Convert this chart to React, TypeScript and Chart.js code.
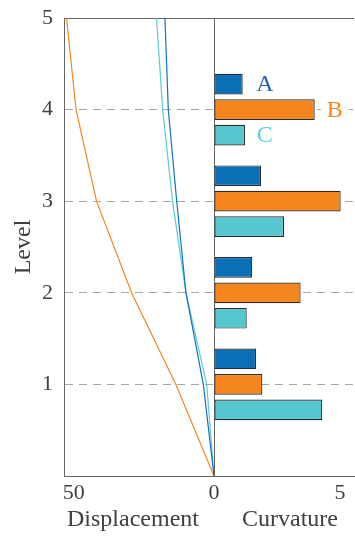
import React, { useEffect, useRef } from 'react';
import { Chart, registerables } from 'chart.js';

Chart.register(...registerables);

// Storey levels and lateral displacement profiles for each case
const levels = [0, 1, 2, 3, 4, 5];
const dispA = [0, 3.8, 10.0, 13.3, 16.3, 17.5];
const dispB = [0, 13.6, 29.4, 41.9, 49.2, 52.6];
const dispC = [0, 2.6, 10.0, 14.8, 18.3, 20.5];

// Curvature demand per level for each case
const barLevels = [1, 2, 3, 4];
const curvA = [1.67, 1.52, 1.87, 1.14];
const curvB = [1.92, 3.44, 5.03, 4.0];
const curvC = [4.3, 1.3, 2.78, 1.23];

const seriesNames = ['A', 'B', 'C'];
const levelTicks = [0, 1, 2, 3, 4, 5];
const dispTicks = [50, 0];
const curvTicks = [0, 5];

const FONT = '"Liberation Serif", "Times New Roman", serif';
const TEXT = '#404040';
const AXIS = '#666666';
const GRID = '#a6a6a6';

const barColors = ['#0a6fb7', '#f5851f', '#56c6cf'];
const lineColors = ['#1272bd', '#f5851f', '#5ccbd4'];
const labelColors = ['#2161b0', '#f5851f', '#5ccfd8'];
// where the case names sit along the curvature axis, beside the top group of bars
const labelAt = [2.02, 4.8, 2.02];
const labelLevel = 4;

const seriesLabels = {
  id: 'seriesLabels',
  afterDatasetsDraw(chart: any) {
    const { ctx } = chart;
    const xs = chart.scales.xc;
    ctx.save();
    ctx.font = `24px ${FONT}`;
    ctx.textAlign = 'center';
    ctx.textBaseline = 'middle';
    seriesNames.forEach((name, i) => {
      const meta = chart.getDatasetMeta(3 + i);
      const bar = meta.data[barLevels.indexOf(labelLevel)];
      const x = xs.getPixelForValue(labelAt[i]);
      const y = bar.y;
      const w = ctx.measureText(name).width;
      ctx.fillStyle = '#ffffff';
      ctx.fillRect(x - w / 2 - 6, y - 10, w + 12, 20);
      ctx.fillStyle = labelColors[i];
      ctx.fillText(name, x, y + 1);
    });
    ctx.restore();
  },
};

// keep tick labels from pushing the plot area inwards
const noScalePadding = (s: any) => {
  s.paddingTop = 0;
  s.paddingBottom = 0;
  s.paddingLeft = 0;
  s.paddingRight = 0;
};

export default function App() {
  const ref = useRef<HTMLCanvasElement | null>(null);

  useEffect(() => {
    if (!ref.current) return;
    const dispSeries = [dispA, dispB, dispC];
    const curvSeries = [curvA, curvB, curvC];

    const lineSets = dispSeries.map((d, i) => ({
      type: 'line' as const,
      label: seriesNames[i],
      indexAxis: 'y' as const,
      xAxisID: 'xd',
      yAxisID: 'y',
      data: levels.map((l, k) => ({ x: d[k], y: l })),
      borderColor: lineColors[i],
      borderWidth: 1.2,
      pointRadius: 0,
      fill: false,
      tension: 0,
    }));

    const barSets = curvSeries.map((c, i) => ({
      type: 'bar' as const,
      label: seriesNames[i],
      indexAxis: 'y' as const,
      xAxisID: 'xc',
      yAxisID: 'y',
      data: barLevels.map((l, k) => ({ x: c[k], y: l })),
      backgroundColor: barColors[i],
      borderColor: '#2a2a2a',
      borderWidth: 1.2,
      borderSkipped: false,
      categoryPercentage: 0.835,
      barPercentage: 0.81,
    }));

    const chart = new Chart(ref.current, {
      type: 'line',
      data: { datasets: [...lineSets, ...barSets] as any },
      plugins: [seriesLabels],
      options: {
        indexAxis: 'y',
        responsive: false,
        animation: false,
        layout: { padding: { top: 18, right: 1, left: 0, bottom: 0 } },
        plugins: { legend: { display: false }, tooltip: { enabled: false } },
        scales: {
          y: {
            type: 'linear',
            axis: 'y',
            position: 'left',
            offset: false,
            min: 0,
            max: 5,
            afterBuildTicks: (s: any) => {
              s.ticks = levelTicks.map((v) => ({ value: v }));
            },
            afterFit: (s: any) => {
              s.width = 64;
              noScalePadding(s);
            },
            ticks: {
              padding: 11,
              color: TEXT,
              font: { family: FONT, size: 22 },
              callback: (v: any) => (v === 0 ? '' : String(v)),
            },
            grid: {
              offset: false,
              drawTicks: false,
              lineWidth: 1,
              color: (c: any) => {
                const v = c.tick ? c.tick.value : null;
                if (v === 0) return 'rgba(0,0,0,0)';
                if (v === 5) return AXIS;
                return GRID;
              },
            },
            border: {
              display: true,
              color: AXIS,
              width: 1,
              dash: (c: any) => (c.tick && c.tick.value !== 5 ? [8, 6] : []),
            },
            title: {
              display: true,
              text: 'Level',
              color: TEXT,
              font: { family: FONT, size: 24 },
              padding: { top: 9, bottom: 0 },
            },
          },
          xd: {
            type: 'linear',
            axis: 'x',
            position: 'bottom',
            stack: 'bottom',
            stackWeight: 150,
            offset: false,
            reverse: true,
            min: 0,
            max: 53.5,
            afterBuildTicks: (s: any) => {
              s.ticks = dispTicks.map((v) => ({ value: v }));
            },
            afterFit: (s: any) => {
              s.height = 66;
              noScalePadding(s);
            },
            ticks: {
              padding: 4,
              color: TEXT,
              autoSkip: false,
              maxRotation: 0,
              font: { family: FONT, size: 22 },
            },
            grid: { display: false, drawTicks: false },
            border: { display: true, color: AXIS, width: 1 },
            title: {
              display: true,
              text: 'Displacement  ',
              color: TEXT,
              font: { family: FONT, size: 24 },
              padding: { top: 0, bottom: 8 },
            },
          },
          xc: {
            type: 'linear',
            axis: 'x',
            position: 'bottom',
            stack: 'bottom',
            stackWeight: 140,
            offset: false,
            min: 0,
            max: 5.56,
            afterBuildTicks: (s: any) => {
              s.ticks = curvTicks.map((v) => ({ value: v }));
            },
            afterFit: (s: any) => {
              s.height = 66;
              noScalePadding(s);
            },
            ticks: {
              padding: 4,
              color: TEXT,
              autoSkip: false,
              maxRotation: 0,
              font: { family: FONT, size: 22 },
              callback: (v: any) => (v === 0 ? '' : String(v)),
            },
            grid: {
              offset: false,
              drawTicks: false,
              lineWidth: 1,
              color: (c: any) => (c.tick && c.tick.value === 0 ? AXIS : 'rgba(0,0,0,0)'),
            },
            border: { display: true, color: AXIS, width: 1 },
            title: {
              display: true,
              text: '  Curvature',
              color: TEXT,
              font: { family: FONT, size: 24 },
              padding: { top: 0, bottom: 8 },
            },
          },
        },
      } as any,
    });

    return () => chart.destroy();
  }, []);

  return (
    <div style={{ position: 'absolute', left: 0, top: 0, width: 355, height: 542, background: '#fff' }}>
      <canvas ref={ref} width={355} height={542} style={{ display: 'block' }} />
    </div>
  );
}
